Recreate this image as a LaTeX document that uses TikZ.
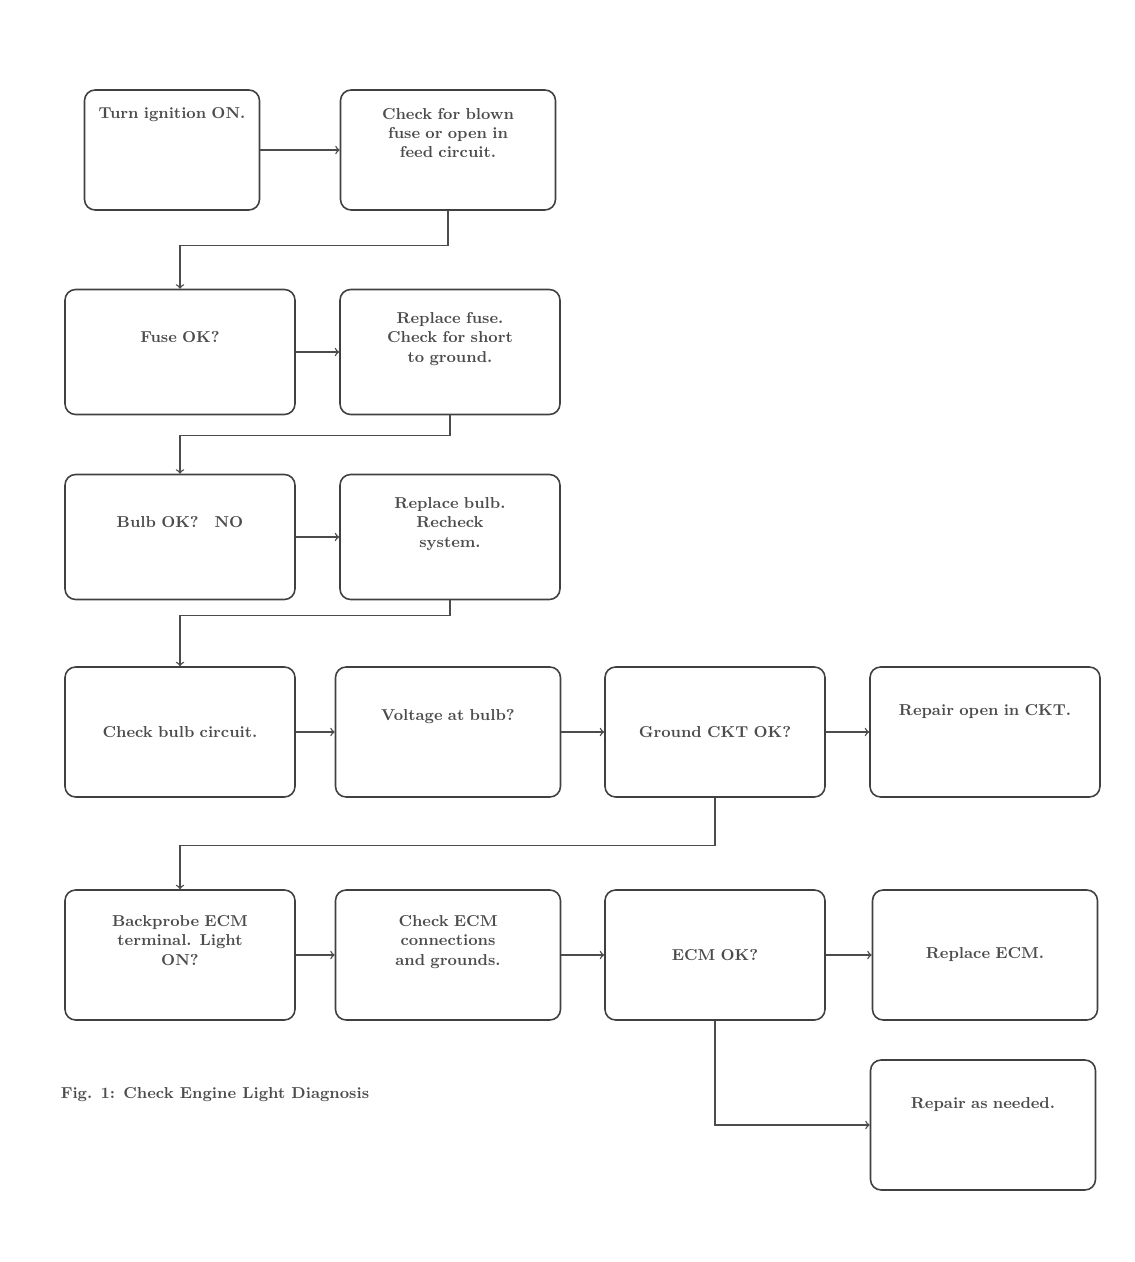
\documentclass[tikz,border=0pt]{standalone}
\usepackage{tikz}
\usetikzlibrary{positioning}

\begin{document}
\begin{tikzpicture}[x=0.02cm, y=-0.02cm,
    chartbox/.style={draw=black!75, rounded corners=6pt, line width=0.9pt,
        align=center, font=\small\bfseries, text=black!70,
        inner xsep=0.15cm, minimum height=2.5cm, text width=#1},
    flow/.style={->, line width=0.8pt, draw=black!70}]
    % Page frame
    \useasboundingbox (0,0) rectangle (1135,1262);

    % First step
    \node[chartbox=3.2cm, minimum height=2.4cm] (ignon) at (172,150) {Turn ignition ON.\\[1.1cm]\mbox{}};
    \node[chartbox=4.0cm, minimum height=2.4cm] (fusechk) at (448,150) {Check for blown\\fuse or open in\\feed circuit.\\[0.3cm]\mbox{}};

    % Second step
    \node[chartbox=4.3cm] (fuseok) at (180,352) {Fuse OK?\\[0.2cm]\mbox{}};
    \node[chartbox=4.1cm] (fuserep) at (450,352) {Replace fuse.\\Check for short\\to ground.\\[0.2cm]\mbox{}};

    % Third step
    \node[chartbox=4.3cm] (bulbok) at (180,537) {Bulb OK?\quad NO\\[0.2cm]\mbox{}};
    \node[chartbox=4.1cm] (bulbrep) at (450,537) {Replace bulb.\\Recheck\\system.\\[0.2cm]\mbox{}};

    % Fourth row
    \node[chartbox=4.3cm, minimum height=2.6cm] (bulbckt) at (180,732) {Check bulb circuit.};
    \node[chartbox=4.2cm, minimum height=2.6cm] (volts) at (448,732) {Voltage at bulb?\\[0.3cm]\mbox{}};
    \node[chartbox=4.1cm, minimum height=2.6cm] (gndok) at (715,732) {Ground CKT OK?};
    \node[chartbox=4.3cm, minimum height=2.6cm] (gndrep) at (985,732) {Repair open in CKT.\\[0.5cm]\mbox{}};

    % Fifth row
    \node[chartbox=4.3cm, minimum height=2.6cm] (probe) at (180,955) {Backprobe ECM\\terminal. Light\\ON?\\[0.2cm]\mbox{}};
    \node[chartbox=4.2cm, minimum height=2.6cm] (ecmconn) at (448,955) {Check ECM\\connections\\and grounds.\\[0.2cm]\mbox{}};
    \node[chartbox=4.1cm, minimum height=2.6cm] (ecmok) at (715,955) {ECM OK?};
    \node[chartbox=4.2cm, minimum height=2.6cm] (ecmrep) at (985,955) {Replace ECM.};

    % Last box
    \node[chartbox=4.2cm, minimum height=2.6cm] (repair) at (983,1125) {Repair as needed.\\[0.5cm]\mbox{}};

    % Figure caption
    \node[font=\small\bfseries, text=black!70] (caption) at (215,1095) {Fig. 1: Check Engine Light Diagnosis};

    % Connectors across each row
    \draw[flow] (ignon) -- (fusechk);
    \draw[flow] (fuseok) -- (fuserep);
    \draw[flow] (bulbok) -- (bulbrep);
    \draw[flow] (bulbckt) -- (volts);
    \draw[flow] (volts) -- (gndok);
    \draw[flow] (gndok) -- (gndrep);
    \draw[flow] (probe) -- (ecmconn);
    \draw[flow] (ecmconn) -- (ecmok);
    \draw[flow] (ecmok) -- (ecmrep);

    % Connectors down to the next row
    \draw[flow] (fusechk.south) -- ++(0,35) -| (fuseok.north);
    \draw[flow] (fuserep.south) -- ++(0,20) -| (bulbok.north);
    \draw[flow] (bulbrep.south) -- ++(0,15) -| (bulbckt.north);
    \draw[flow] (gndok.south) -- ++(0,48) -| (probe.north);
    \draw[flow] (ecmok.south) |- (repair.west);
\end{tikzpicture}
\end{document}
